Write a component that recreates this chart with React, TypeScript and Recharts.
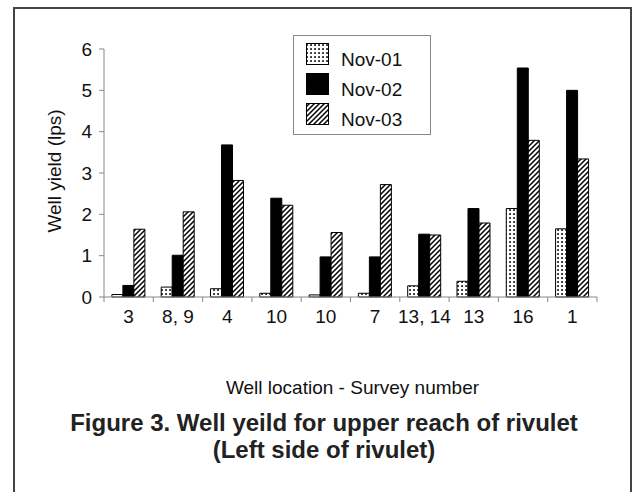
import React from "react";
import { BarChart, Bar, XAxis, YAxis } from "recharts";

const categories = ["3", "8, 9", "4", "10", "10", "7", "13, 14", "13", "16", "1"];
const nov01 = [0.06, 0.24, 0.2, 0.09, 0.05, 0.09, 0.27, 0.38, 2.14, 1.65];
const nov02 = [0.28, 1.01, 3.68, 2.39, 0.97, 0.97, 1.52, 2.14, 5.54, 5.0];
const nov03 = [1.64, 2.06, 2.82, 2.22, 1.56, 2.72, 1.5, 1.79, 3.79, 3.34];
const yTicks = [0, 1, 2, 3, 4, 5, 6];
const seriesNames = ["Nov-01", "Nov-02", "Nov-03"];

const data = categories.map((c, i) => ({
  cat: c,
  idx: i,
  a: nov01[i],
  b: nov02[i],
  c: nov03[i],
}));

const FONT = "'Liberation Sans', Arial, sans-serif";
const TXT = "#111";
const AXIS = "#888";

const PatternDefs = ({ prefix }: { prefix: string }) => (
  <defs>
    <pattern id={`${prefix}-dots`} width="4" height="4" patternUnits="userSpaceOnUse">
      <rect width="4" height="4" fill="#fff" />
      <rect x="1.2" y="1.2" width="1.7" height="1.7" fill="#000" />
    </pattern>
    <pattern id={`${prefix}-hatch`} width="5" height="5" patternUnits="userSpaceOnUse">
      <rect width="5" height="5" fill="#fff" />
      <path d="M0,5 L5,0 M-1,1 L1,-1 M4,6 L6,4" stroke="#000" strokeWidth="1.5" />
    </pattern>
  </defs>
);

const CatTick = (props: any) => {
  const { x, y, payload, width, visibleTicksCount, index } = props;
  const band = width / (visibleTicksCount || categories.length);
  return (
    <g>
      <line x1={x - band / 2} y1={y} x2={x - band / 2} y2={y + 5} stroke={AXIS} />
      {index === categories.length - 1 && (
        <line x1={x + band / 2} y1={y} x2={x + band / 2} y2={y + 5} stroke={AXIS} />
      )}
      <text x={x} y={y + 26} textAnchor="middle" fill={TXT} fontSize={19} fontFamily={FONT}>
        {payload.value}
      </text>
    </g>
  );
};

const LegendBox = () => {
  const fills = ["url(#lg-dots)", "#000", "url(#lg-hatch)"];
  return (
    <svg width={138} height={100} style={{ position: "absolute", left: 293, top: 35 }}>
      <PatternDefs prefix="lg" />
      <rect x={0.5} y={0.5} width={137} height={99} fill="#fff" stroke={AXIS} strokeWidth={1} />
      {seriesNames.map((n, i) => (
        <g key={n}>
          <rect x={13.5} y={8.5 + i * 30} width={22} height={21} fill={fills[i]} stroke="#000" strokeWidth={1} />
          <text x={48} y={31 + i * 30} fontSize={19} fontFamily={FONT} fill={TXT}>
            {n}
          </text>
        </g>
      ))}
    </svg>
  );
};

export default function App() {
  return (
    <div style={{ position: "absolute", left: 0, top: 0, width: 637, height: 492, background: "#fff", overflow: "hidden" }}>
      <div
        style={{
          position: "absolute",
          left: 13,
          top: 7,
          width: 619,
          height: 520,
          border: "2px solid #444",
          boxSizing: "border-box",
        }}
      />
      <BarChart
        width={637}
        height={492}
        data={data}
        margin={{ top: 49, right: 40, bottom: 165, left: 44 }}
        barCategoryGap="16%"
        barGap={0}
        style={{ position: "absolute", left: 0, top: 0 }}
      >
        <PatternDefs prefix="ch" />
        <XAxis
          dataKey="idx"
          type="category"
          height={30}
          stroke={AXIS}
          tickLine={false}
          tickSize={0}
          tickMargin={0}
          interval={0}
          tickFormatter={(v: any) => categories[v]}
          tick={(p: any) => <CatTick {...p} payload={{ ...p.payload, value: categories[p.payload.value] }} />}
          label={{
            content: (lp: any) => {
              const vb = lp.viewBox;
              return (
                <text x={vb.x + vb.width / 2 + 2} y={vb.y + 97} textAnchor="middle" fontSize={19} fontFamily={FONT} fill={TXT}>
                  Well location - Survey number
                </text>
              );
            },
          }}
        />
        <YAxis
          width={60}
          domain={[0, 6]}
          ticks={yTicks}
          interval={0}
          stroke={AXIS}
          tickSize={5}
          tickMargin={7}
          tick={{ fill: TXT, fontSize: 19, fontFamily: FONT }}
          label={{
            content: (lp: any) => {
              const vb = lp.viewBox;
              const cx = vb.x + 10;
              const cy = vb.y + vb.height / 2 - 2;
              return (
                <text
                  x={cx}
                  y={cy}
                  transform={`rotate(-90 ${cx} ${cy})`}
                  textAnchor="middle"
                  dominantBaseline="central"
                  fontSize={19}
                  fontFamily={FONT}
                  fill={TXT}
                >
                  Well yield (lps)
                </text>
              );
            },
          }}
        />
        <Bar dataKey="a" name={seriesNames[0]} fill="url(#ch-dots)" stroke="#000" strokeWidth={1} isAnimationActive={false} />
        <Bar dataKey="b" name={seriesNames[1]} fill="#000" stroke="#000" strokeWidth={1} isAnimationActive={false} />
        <Bar dataKey="c" name={seriesNames[2]} fill="url(#ch-hatch)" stroke="#000" strokeWidth={1} isAnimationActive={false} />
      </BarChart>
      <LegendBox />
      <div
        style={{
          position: "absolute",
          left: 0,
          top: 409,
          width: 648,
          textAlign: "center",
          fontFamily: FONT,
          fontWeight: "bold",
          fontSize: 24,
          lineHeight: "27px",
          color: "#222",
        }}
      >
        Figure 3. Well yeild for upper reach of rivulet
        <br />
        (Left side of rivulet)
      </div>
    </div>
  );
}
